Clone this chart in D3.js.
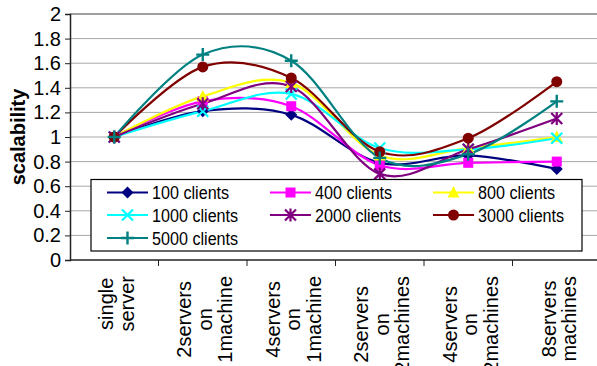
<!DOCTYPE html>
<html>
<head>
<meta charset="utf-8">
<script src="https://cdn.jsdelivr.net/npm/d3@7"></script>
<style>
  html, body { margin: 0; padding: 0; background: #fff; }
  svg { display: block; font-family: "Liberation Sans", Arial, sans-serif; }
</style>
</head>
<body>
<svg id="chart" width="597" height="366"></svg>
<script>
// Server configurations along the x axis (one entry per line of the label)
const categories = ["single server", "2servers on 1machine", "4servers on 1machine",
                    "2servers on 2machines", "4servers on 2machines", "8servers machines"];
const categoryLines = [["single", "server"], ["2servers", "on", "1machine"], ["4servers", "on", "1machine"],
                       ["2servers", "on", "2machines"], ["4servers", "on", "2machines"], ["8servers", "machines"]];

// Client loads (legend order)
const seriesNames = ["100 clients", "400 clients", "800 clients", "1000 clients",
                     "2000 clients", "3000 clients", "5000 clients"];

// Scalability per configuration, one array per client load
const clients100  = [1, 1.21, 1.18, 0.79, 0.85, 0.74];
const clients400  = [1, 1.29, 1.25, 0.77, 0.79, 0.80];
const clients800  = [1, 1.33, 1.44, 0.85, 0.91, 1.00];
const clients1000 = [1, 1.21, 1.35, 0.91, 0.90, 0.99];
const clients2000 = [1, 1.27, 1.41, 0.70, 0.90, 1.15];
const clients3000 = [1, 1.57, 1.48, 0.88, 0.99, 1.45];
const clients5000 = [1, 1.67, 1.62, 0.83, 0.86, 1.29];

const yTicks = [0, 0.2, 0.4, 0.6, 0.8, 1, 1.2, 1.4, 1.6, 1.8, 2];

const seriesValues = [clients100, clients400, clients800, clients1000, clients2000, clients3000, clients5000];
const colors  = ["#000080", "#ff00ff", "#ffff00", "#00ffff", "#800080", "#800000", "#008080"];
const markers = ["diamond", "square", "triangle", "x", "asterisk", "circle", "plus"];

const svg = d3.select("#chart");
const plotLeft = 70, plotRight = 601, plotTop = 14, plotBottom = 260;

const x = d3.scaleBand().domain(categories).range([plotLeft, plotRight]).paddingInner(0).paddingOuter(0);
const cx = c => x(c) + x.bandwidth() / 2;
const y = d3.scaleLinear().domain([0, 2]).range([plotBottom, plotTop]);

// Horizontal gridlines
svg.append("g")
  .selectAll("line")
  .data(yTicks.filter(t => t > 0))
  .join("line")
  .attr("x1", plotLeft).attr("x2", plotRight)
  .attr("y1", d => y(d)).attr("y2", d => y(d))
  .attr("stroke", d => d === 2 ? "#808080" : "#a8a8a8")
  .attr("stroke-width", d => d === 2 ? 1.5 : 1);

// Y axis
const yAxis = svg.append("g")
  .attr("transform", `translate(${plotLeft},0)`)
  .call(d3.axisLeft(y).tickValues(yTicks).tickSize(5).tickPadding(4).tickFormat(d3.format("~g")));
yAxis.select(".domain").attr("stroke", "#222").attr("stroke-width", 1.5);
yAxis.selectAll(".tick line").attr("stroke", "#222");
yAxis.selectAll(".tick text")
  .attr("font-size", 20)
  .attr("fill", "#000")
  .attr("font-family", "Liberation Sans, Arial, sans-serif");

// X axis: baseline plus ticks on the category boundaries
const xAxis = svg.append("g").attr("transform", `translate(0,${plotBottom})`);
xAxis.append("line").attr("x1", plotLeft).attr("x2", plotRight).attr("stroke", "#222").attr("stroke-width", 1.5);
xAxis.selectAll("line.tk")
  .data(categories.slice(1))
  .join("line")
  .attr("class", "tk")
  .attr("x1", d => x(d)).attr("x2", d => x(d))
  .attr("y1", 0).attr("y2", 6)
  .attr("stroke", "#222");

// Rotated, multi-line category labels
const fsX = 20, lh = 20.5;
categories.forEach((c, i) => {
  const lines = categoryLines[i];
  const g = svg.append("g");
  const texts = lines.map(t => g.append("text").attr("font-size", fsX).attr("text-anchor", "middle").text(t));
  const maxW = d3.max(texts, t => t.node().getComputedTextLength());
  const topY = plotBottom + 16;
  const centerY = topY + maxW / 2;
  texts.forEach((t, j) => {
    const off = (j - (lines.length - 1) / 2) * lh;
    const base = cx(c) + 2 + off + fsX * 0.36;
    t.attr("transform", `translate(${base},${centerY}) rotate(-90)`);
  });
});

// Y axis title
svg.append("text")
  .attr("transform", `translate(25,${(plotTop + plotBottom) / 2}) rotate(-90)`)
  .attr("text-anchor", "middle")
  .attr("font-size", 20)
  .attr("font-weight", "bold")
  .text("scalability");

// Marker shapes
function drawMarker(sel, type, color, px, py) {
  const g = sel.append("g").attr("transform", `translate(${px},${py})`);
  const r = 5.5;
  if (type === "diamond") {
    g.append("path").attr("d", `M0,${-r - 0.5}L${r + 0.5},0L0,${r + 0.5}L${-r - 0.5},0Z`).attr("fill", color);
  } else if (type === "square") {
    g.append("rect").attr("x", -r + 0.5).attr("y", -r + 0.5).attr("width", 2 * r - 1).attr("height", 2 * r - 1).attr("fill", color);
  } else if (type === "triangle") {
    g.append("path").attr("d", `M0,${-r - 1}L${r + 0.5},${r - 0.5}L${-r - 0.5},${r - 0.5}Z`).attr("fill", color);
  } else if (type === "circle") {
    g.append("circle").attr("r", r).attr("fill", color);
  } else if (type === "x") {
    g.append("path").attr("d", `M${-r},${-r}L${r},${r}M${-r},${r}L${r},${-r}`).attr("stroke", color).attr("stroke-width", 2.2);
  } else if (type === "asterisk") {
    g.append("path").attr("d", `M${-r},${-r}L${r},${r}M${-r},${r}L${r},${-r}M0,${-r - 1}L0,${r + 1}`).attr("stroke", color).attr("stroke-width", 2.2);
  } else if (type === "plus") {
    g.append("path").attr("d", `M${-r - 1},0L${r + 1},0M0,${-r - 1}L0,${r + 1}`).attr("stroke", color).attr("stroke-width", 2.4);
  }
}

// Smoothed series lines and their markers
const line = d3.line()
  .x((d, i) => cx(categories[i]))
  .y(d => y(d))
  .curve(d3.curveCardinal.tension(0));

const plot = svg.append("g");
seriesValues.forEach((vals, s) => {
  plot.append("path")
    .attr("d", line(vals))
    .attr("fill", "none")
    .attr("stroke", colors[s])
    .attr("stroke-width", 2.2);
});
seriesValues.forEach((vals, s) => {
  vals.forEach((v, i) => drawMarker(plot, markers[s], colors[s], cx(categories[i]), y(v)));
});

// Legend
const legend = svg.append("g");
legend.append("rect")
  .attr("x", 91).attr("y", 179.5).attr("width", 491).attr("height", 71.5)
  .attr("fill", "#fff").attr("stroke", "#000").attr("stroke-width", 1.2);
const colX = [107, 270, 433], rowY = [192.5, 215, 238];
seriesNames.forEach((name, s) => {
  const lx = colX[s % 3], ly = rowY[Math.floor(s / 3)];
  legend.append("line").attr("x1", lx).attr("x2", lx + 41).attr("y1", ly).attr("y2", ly)
    .attr("stroke", colors[s]).attr("stroke-width", 2.2);
  drawMarker(legend, markers[s], colors[s], lx + 20.5, ly);
  legend.append("text")
    .attr("transform", `translate(${lx + 45},${ly + 6.5}) scale(0.85,1)`)
    .attr("font-size", 19)
    .text(name);
});
</script>
</body>
</html>
